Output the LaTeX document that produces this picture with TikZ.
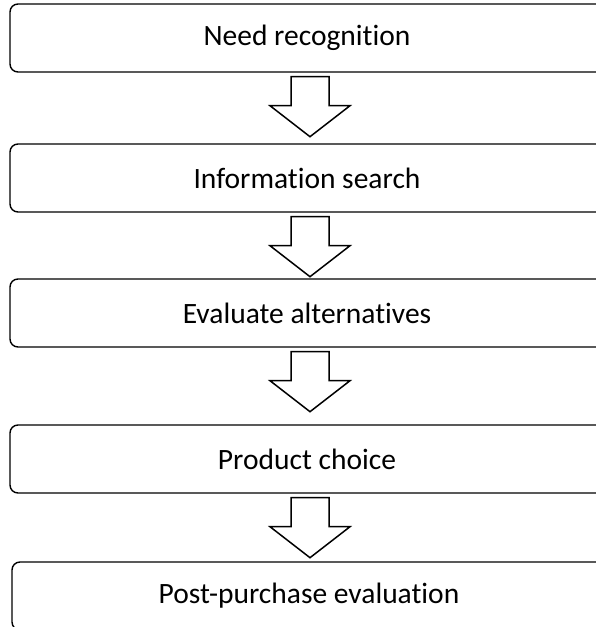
\documentclass[tikz,border=0pt]{standalone}
\usepackage{fontspec}
\setmainfont[Ligatures=NoCommon]{Carlito}
\usepackage{tikz}

\tikzset{
	stage/.style={draw, line width=1.4pt, rounded corners=8pt, minimum width=594pt, minimum height=68pt, inner sep=0pt, font=\fontsize{29.5}{34}\selectfont},
	blockarrow/.style={draw, line width=1.5pt, fill=white, line join=miter}
}

\begin{document}
\begin{tikzpicture}[x=1pt, y=-1pt]
	\useasboundingbox (0, 0) rectangle (596, 627);
	\node [stage] (need) at (307, 38) {Need recognition};
	\node [stage] (info) at (307, 178) {Information search};
	\node [stage] (eval) at (307, 313) {Evaluate alternatives};
	\node [stage] (choice) at (307, 459) {Product choice};
	\node [stage] (post) at (309, 596) {Post-purchase evaluation};
	% block arrows between the stages
	\foreach \a/\b in {need/info, info/eval, eval/choice, choice/post}
		\draw [blockarrow] ([xshift=-16pt, yshift=-4pt]\a.south) -- ++(0, 29) -- ++(-21, 0) -- ++(40, 31) -- ++(40, -31) -- ++(-21, 0) -- ++(0, -29) -- cycle;
\end{tikzpicture}
\end{document}
